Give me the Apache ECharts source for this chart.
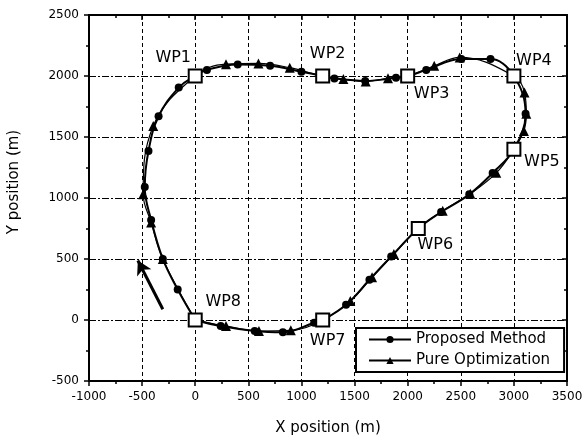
<!DOCTYPE html>
<html><head><meta charset="utf-8">
<script src="https://cdn.jsdelivr.net/npm/echarts@6/dist/echarts.min.js"></script>
<style>html,body{margin:0;padding:0;background:#fff}#c{width:584px;height:441px}</style>
</head><body><div id="c"></div>
<script>
// ---- data ----
const seriesNames = ['Proposed Method', 'Pure Optimization'];
const proposedPath = [
  [0,0],[-165,250],[-305,500],[-415,820],[-475,1090],[-440,1385],[-345,1670],[-155,1905],
  [0,2000],[110,2050],[400,2095],[705,2085],[1000,2035],
  [1200,2000],[1310,1980],[1600,1960],[1890,1985],
  [2000,2000],[2175,2050],[2505,2140],[2780,2140],
  [3000,2000],[3110,1690],
  [3000,1400],[2800,1205],[2580,1030],[2315,885],
  [2100,750],[1845,520],[1640,330],[1420,125],
  [1200,0],[1120,-22],[825,-100],[560,-90],[240,-50],[0,0]
];
const pureOptPath = [
  [0,0],[-305,500],[-415,800],[-490,1030],[-395,1590],
  [0,2000],[290,2097],[595,2103],[890,2068],
  [1200,2000],[1395,1975],[1605,1955],[1815,1982],
  [2000,2000],[2250,2083],[2490,2152],
  [3000,2000],[3100,1865],[3117,1690],[3094,1550],
  [3000,1400],[2834,1206],[2590,1035],[2330,895],
  [2100,750],[1870,540],[1665,350],[1460,155],
  [1200,0],[900,-85],[600,-90],[290,-50],[0,0]
];
const waypoints = [[0,2000],[1200,2000],[2000,2000],[3000,2000],[3000,1400],[2100,750],[1200,0],[0,0]];
const waypointNames = ['WP1','WP2','WP3','WP4','WP5','WP6','WP7','WP8'];
const launchArrow = [[-305,88],[-540,488]];
const launchText = 'Launch point';
const launchTextAt = [-493,-170];
const xTitle = 'X position (m)';
const yTitle = 'Y position (m)';

// ---- styles ----
const FONT = 'DejaVu Sans';
const wpLabelOffsets = [[-22,-18],[5,-22],[24,18],[20,-15],[28,13],[17,16],[5,21],[28,-18]];

const isWp = p => waypoints.some(w => w[0]===p[0] && w[1]===p[1]);
const toData = path => path.map(p => isWp(p) ? {value:p, symbol:'none'} : {value:p});

const chart = echarts.init(document.getElementById('c'), null, {renderer:'canvas'});
const axisBase = {
  type:'value',
  axisLine:{show:true, onZero:false, lineStyle:{color:'#000', width:2}},
  axisTick:{show:true, length:5, lineStyle:{color:'#000', width:1.5}},
  minorTick:{show:true, splitNumber:2, length:3, lineStyle:{color:'#000', width:1.5}},
  axisLabel:{color:'#000', fontFamily:FONT, fontSize:12, formatter:v => String(v)},
};
chart.setOption({
  animation:false,
  backgroundColor:'#fff',
  grid:{left:89, right:17, top:15, bottom:60, containLabel:false, outerBoundsMode:'none'},
  xAxis:[
    Object.assign({}, axisBase, {min:-1000, max:3500, interval:500, position:'bottom',
      axisLabel:Object.assign({}, axisBase.axisLabel, {margin:10}),
      splitLine:{show:true, lineStyle:{color:'#000', width:1, type:[4,3]}},
      name:xTitle, nameLocation:'middle', nameGap:40,
      nameTextStyle:{color:'#000', fontFamily:FONT, fontSize:15}}),
    Object.assign({}, axisBase, {min:-1000, max:3500, interval:500, position:'top',
      axisLabel:{show:false}, splitLine:{show:false},
      axisTick:Object.assign({}, axisBase.axisTick, {inside:true}),
      minorTick:Object.assign({}, axisBase.minorTick)})
  ],
  yAxis:[
    Object.assign({}, axisBase, {min:-500, max:2500, interval:500, position:'left',
      axisLabel:Object.assign({}, axisBase.axisLabel, {margin:10}),
      splitLine:{show:true, lineStyle:{color:'#000', width:1, type:[7,2,2,2]}},
      name:yTitle, nameLocation:'middle', nameGap:67,
      nameTextStyle:{color:'#000', fontFamily:FONT, fontSize:15, padding:[0,0,0,32]}}),
    Object.assign({}, axisBase, {min:-500, max:2500, interval:500, position:'right',
      axisLabel:{show:false}, splitLine:{show:false},
      axisTick:Object.assign({}, axisBase.axisTick, {inside:true}),
      minorTick:Object.assign({}, axisBase.minorTick)})
  ],
  legend:{
    data:seriesNames, orient:'vertical', left:356, top:328,
    backgroundColor:'#fff', borderColor:'#000', borderWidth:2, borderRadius:0,
    padding:[4,14,4,12], itemGap:6, itemWidth:42, itemHeight:9,
    textStyle:{color:'#000', fontFamily:FONT, fontSize:15}
  },
  series:[
    {name:seriesNames[0], type:'line', smooth:0.4, data:toData(proposedPath),
     symbol:'circle', symbolSize:8, showAllSymbol:true,
     lineStyle:{color:'#000', width:2}, itemStyle:{color:'#000'}, z:3},
    {name:seriesNames[1], type:'line', smooth:0.4, data:toData(pureOptPath),
     symbol:'triangle', symbolSize:10, showAllSymbol:true,
     lineStyle:{color:'#000', width:1.2}, itemStyle:{color:'#000'}, z:3},
    {type:'scatter', symbol:'rect', symbolSize:13, z:5,
     itemStyle:{color:'#fff', borderColor:'#000', borderWidth:2, opacity:1},
     data:waypoints.map((w,i)=>({value:w,
       label:{show:true, formatter:waypointNames[i], position:'inside', offset:wpLabelOffsets[i],
              color:'#000', fontFamily:FONT, fontSize:16}})),
     markLine:{silent:true, symbol:['none','arrow'], symbolSize:[12,14],
       lineStyle:{color:'#000', width:3, type:'solid'}, label:{show:false},
       data:[[{coord:launchArrow[0]},{coord:launchArrow[1]}]]}
    },
    {type:'scatter', symbol:'none', z:5,
     data:[{value:launchTextAt, label:{show:true, position:'inside', formatter:launchText,
       color:'#000', fontFamily:FONT, fontSize:15}}]}
  ]
});
</script></body></html>
